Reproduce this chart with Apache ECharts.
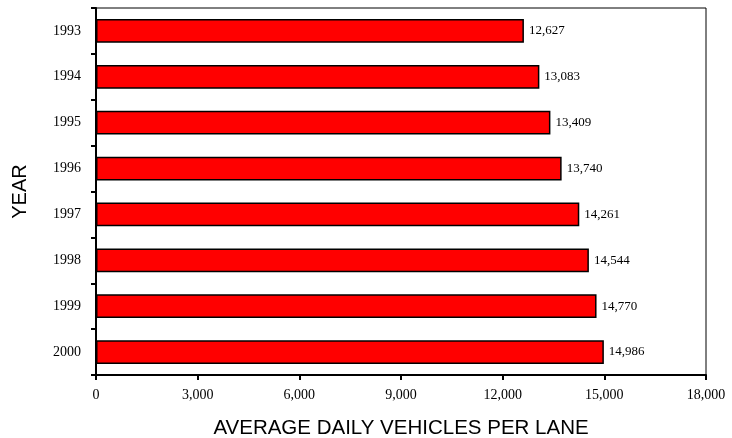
<!DOCTYPE html>
<html>
<head>
<meta charset="utf-8">
<script src="https://cdn.jsdelivr.net/npm/echarts@6/dist/echarts.min.js"></script>
<style>
  html, body { margin: 0; padding: 0; background: #fff; }
  #chart { width: 732px; height: 438px; }
</style>
</head>
<body>
<div id="chart"></div>
<script>
const years = ['1993', '1994', '1995', '1996', '1997', '1998', '1999', '2000']
const vehicles = [12627, 13083, 13409, 13740, 14261, 14544, 14770, 14986]
const xTicks = [0, 3000, 6000, 9000, 12000, 15000, 18000]

const fmt = v => Number(v).toLocaleString('en-US')
const serif = '"Liberation Serif", "DejaVu Serif", serif'
const sans = '"Liberation Sans", Arial, sans-serif'

const chart = echarts.init(document.getElementById('chart'))

chart.setOption({
  animation: false,
  grid: {
    left: 96,
    right: 26,
    top: 8,
    bottom: 63,
    outerBoundsMode: 'none',
    containLabel: false,
    show: true,
    borderColor: '#000',
    borderWidth: 1
  },
  xAxis: {
    type: 'value',
    min: xTicks[0],
    max: xTicks[xTicks.length - 1],
    interval: 3000,
    name: 'AVERAGE DAILY VEHICLES PER LANE',
    nameLocation: 'middle',
    nameGap: 43,
    nameTextStyle: { fontFamily: sans, fontSize: 20.5, color: '#000' },
    axisLine: { show: true, lineStyle: { color: '#000', width: 2 } },
    axisTick: { show: true, length: 5, lineStyle: { color: '#000', width: 2 } },
    axisLabel: { fontFamily: serif, fontSize: 14, color: '#000', margin: 13, formatter: fmt },
    splitLine: { show: false }
  },
  yAxis: {
    type: 'category',
    inverse: true,
    data: years,
    name: 'YEAR',
    nameLocation: 'middle',
    nameGap: 66,
    nameRotate: 90,
    nameTextStyle: { fontFamily: sans, fontSize: 20, color: '#000' },
    axisLine: { show: true, lineStyle: { color: '#000', width: 2 } },
    axisTick: { show: true, length: 5, lineStyle: { color: '#000', width: 2 } },
    axisLabel: { fontFamily: serif, fontSize: 14, color: '#000', margin: 15 }
  },
  series: [
    {
      type: 'bar',
      data: vehicles,
      barWidth: '52%',
      itemStyle: { color: '#ff0000', borderColor: '#000', borderWidth: 1.5 },
      label: {
        show: true,
        position: 'right',
        distance: 5,
        fontFamily: serif,
        fontSize: 13,
        color: '#000',
        formatter: p => fmt(p.value)
      }
    }
  ]
})
</script>
</body>
</html>
